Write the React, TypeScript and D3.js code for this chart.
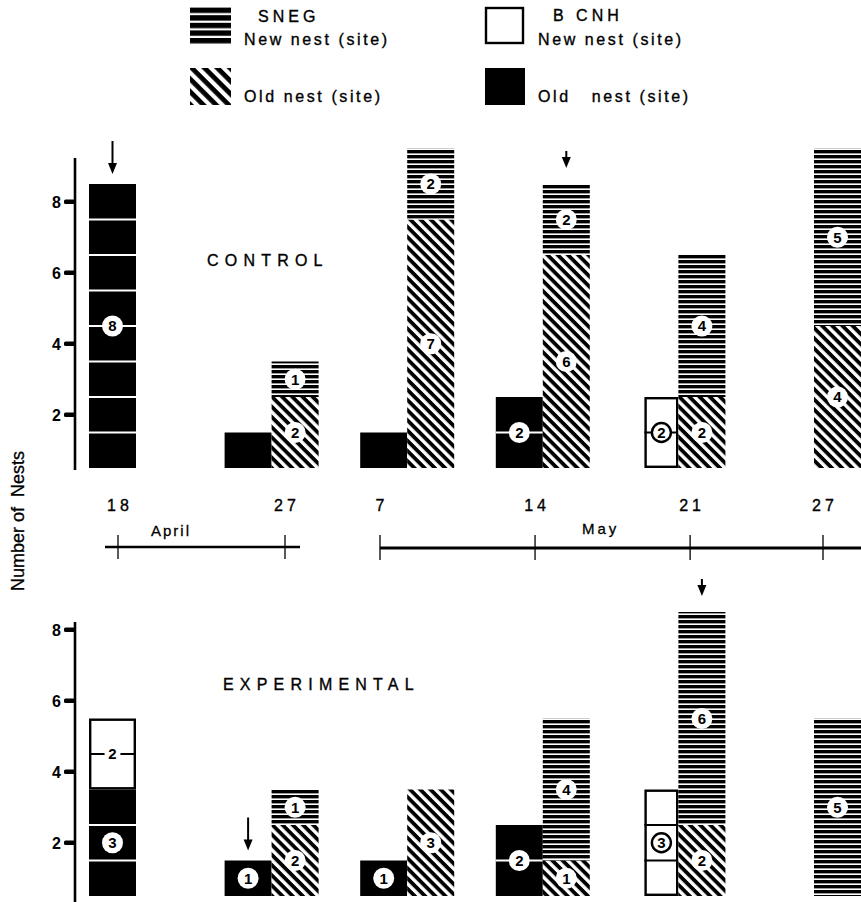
import React from "react";
import * as d3 from "d3";

const W = 861;
const H = 902;
const UNIT = 35.5;
const BAR_W = 47;
const NARROW_W = 34;
const FONT = "'Liberation Sans', Arial, Helvetica, sans-serif";

// census dates (bars) and the two halves of the broken time line
const dateKeys = ["Apr 18", "Apr 27", "May 7", "May 14", "May 21", "May 27"];
const aprilDays = [18, 27];
const mayDays = [7, 14, 21, 27];
const yTicks = [2, 4, 6, 8];

// CONTROL colony, nests per date
const controlBcnhOld = [8, 1, 1, 2, 0, 0];
const controlBcnhNew = [0, 0, 0, 0, 2, 0];
const controlSnegOld = [0, 2, 7, 6, 2, 4];
const controlSnegNew = [0, 1, 2, 2, 4, 5];

// EXPERIMENTAL colony, nests per date
const expBcnhOld = [3, 1, 1, 2, 0, 0];
const expBcnhNew = [2, 0, 0, 0, 3, 0];
const expSnegOld = [0, 2, 3, 1, 2, 0];
const expSnegNew = [0, 1, 0, 4, 6, 5];

// counts that carry no number in the figure, and the ones drawn as a ringed number
const hiddenLabels = ["control|bcnhOld|Apr 27", "control|bcnhOld|May 7"];
const ringedLabels = ["control|bcnhNew|May 21", "experimental|bcnhNew|May 21"];
const plainLabels = ["experimental|bcnhNew|Apr 18"];

// arrows over a column
const arrows = [
  { panel: "control", date: "Apr 18", column: "bcnh", long: true },
  { panel: "control", date: "May 14", column: "sneg", long: false },
  { panel: "experimental", date: "Apr 27", column: "bcnh", long: true },
  { panel: "experimental", date: "May 21", column: "sneg", long: false },
];

const panels = [
  {
    key: "control", title: "CONTROL", baseY: 468, axisTop: 158, axisBottom: 470,
    titleX: 207, titleY: 266,
    bcnhOld: controlBcnhOld, bcnhNew: controlBcnhNew, snegOld: controlSnegOld, snegNew: controlSnegNew,
  },
  {
    key: "experimental", title: "EXPERIMENTAL", baseY: 896, axisTop: 622, axisBottom: 902,
    titleX: 223, titleY: 690,
    bcnhOld: expBcnhOld, bcnhNew: expBcnhNew, snegOld: expSnegOld, snegNew: expSnegNew,
  },
];

const fills = {
  bcnhOld: "#000",
  bcnhNew: "#fff",
  snegOld: "url(#hatch)",
  snegNew: "url(#horiz)",
};

// bars: the point is the boundary between the BCNH and SNEG columns
const xScale = d3.scalePoint().domain(dateKeys).range([136, 814]);
const aprilScale = d3.scaleLinear().domain([18, 27]).range([118, 285]);
const mayScale = d3.scaleLinear().domain([7, 27]).range([380, 823]);

function Panel({ p }) {
  const yScale = d3.scaleLinear().domain([0.5, 9.5]).range([p.baseY, p.baseY - 9 * UNIT]);
  const rows = dateKeys.map((d, i) => ({
    date: d, bcnhOld: p.bcnhOld[i], bcnhNew: p.bcnhNew[i], snegOld: p.snegOld[i], snegNew: p.snegNew[i],
  }));
  const columns = [
    { name: "bcnh", keys: ["bcnhOld", "bcnhNew"] },
    { name: "sneg", keys: ["snegOld", "snegNew"] },
  ];

  const segs = [];
  columns.forEach(col => {
    const series = d3.stack().keys(col.keys)(rows);
    series.forEach(s => {
      s.forEach(v => {
        const n = v[1] - v[0];
        if (n <= 0) return;
        // a column of new BCNH nests only is drawn narrower
        const w = col.name === "bcnh" && v.data.bcnhOld === 0 ? NARROW_W : BAR_W;
        const x = col.name === "bcnh" ? xScale(v.data.date) - w : xScale(v.data.date);
        segs.push({ key: s.key, date: v.data.date, n, y0: 0.5 + v[0], y1: 0.5 + v[1], x, w });
      });
    });
  });

  const totals = {};
  rows.forEach(r => {
    totals[r.date] = { bcnh: r.bcnhOld + r.bcnhNew, sneg: r.snegOld + r.snegNew };
  });

  return (
    <g>
      {/* y axis */}
      <line x1={75} x2={75} y1={p.axisTop} y2={p.axisBottom} stroke="#000" strokeWidth={2.6} />
      {yTicks.map(t => (
        <g key={t} transform={`translate(0,${yScale(t)})`}>
          <rect x={64} y={-2.3} width={11} height={4.6} rx={1.5} fill="#000" />
          <text x={61} dy="0.36em" textAnchor="end" fontSize={16} fontWeight="bold" fontFamily={FONT}>{t}</text>
        </g>
      ))}
      <text x={p.titleX} y={p.titleY} fontSize={16} letterSpacing={6.2} fontFamily={FONT}
        stroke="#000" strokeWidth={0.35}>{p.title}</text>

      {segs.map((s, i) => {
        const top = yScale(s.y1);
        const bot = yScale(s.y0);
        const isWhite = s.key === "bcnhNew";
        const unitSep = s.key === "bcnhOld" || s.key === "bcnhNew";
        const inset = isWhite ? 1.2 : 0;
        return (
          <g key={i}>
            <rect
              x={s.x + inset}
              y={top + inset}
              width={s.w - 2 * inset}
              height={bot - top - 2 * inset}
              fill={fills[s.key]}
              stroke={isWhite ? "#000" : "none"}
              strokeWidth={2.4}
            />
            {unitSep && d3.range(1, s.n).map(k => (
              <line key={k} x1={s.x} x2={s.x + s.w} y1={yScale(s.y0 + k)} y2={yScale(s.y0 + k)}
                stroke={isWhite ? "#000" : "#fff"} strokeWidth={2} />
            ))}
          </g>
        );
      })}

      {segs.filter(s => !hiddenLabels.includes(`${p.key}|${s.key}|${s.date}`)).map((s, i) => {
        const id = `${p.key}|${s.key}|${s.date}`;
        const cy = yScale((s.y0 + s.y1) / 2);
        const cx = s.x + s.w / 2;
        const ringed = ringedLabels.includes(id);
        const plain = plainLabels.includes(id);
        return (
          <g key={i} transform={`translate(${cx},${cy})`}>
            <circle r={ringed ? 9.5 : plain ? 8 : 10.5} fill="#fff" stroke={ringed ? "#000" : "none"} strokeWidth={2.4} />
            <text dy="0.36em" textAnchor="middle" fontSize={15} fontWeight="bold" fontFamily={FONT}>{s.n}</text>
          </g>
        );
      })}

      {arrows.filter(a => a.panel === p.key).map((a, i) => {
        const cx = xScale(a.date) + (a.column === "bcnh" ? -BAR_W / 2 : BAR_W / 2);
        const tip = yScale(0.5 + totals[a.date][a.column]) - (a.long ? 10 : 16);
        const len = a.long ? 33 : 17;
        return (
          <g key={i}>
            <line x1={cx} x2={cx} y1={tip - len} y2={tip - 8} stroke="#000" strokeWidth={2} />
            <path d={`M${cx - 4.5},${tip - 11}L${cx + 4.5},${tip - 11}L${cx},${tip}Z`} fill="#000" />
          </g>
        );
      })}
    </g>
  );
}

function Legend() {
  const txt = { fontSize: 16, fontFamily: FONT, letterSpacing: 2.6, stroke: "#000", strokeWidth: 0.35 };
  return (
    <g>
      <rect x={190} y={7} width={41} height={37} fill="url(#horizBig)" />
      <text x={258} y={22} {...txt} letterSpacing={4}>SNEG</text>
      <text x={244} y={45} {...txt}>New nest (site)</text>
      <rect x={190} y={68} width={41} height={37} fill="url(#hatchBig)" />
      <text x={244} y={102} {...txt}>Old nest (site)</text>

      <rect x={486} y={8} width={37} height={35} fill="#fff" stroke="#000" strokeWidth={2.4} />
      <text x={553} y={21} {...txt} letterSpacing={4}>B CNH</text>
      <text x={538} y={45} {...txt}>New nest (site)</text>
      <rect x={485} y={68} width={40} height={37} fill="#000" />
      <text x={538} y={102} {...txt} xmlSpace="preserve">Old   nest (site)</text>
    </g>
  );
}

function TimeLine() {
  const labelY = 511;
  const lineY = 547;
  const dateText = {
    fontSize: 16, fontFamily: FONT, letterSpacing: 4, textAnchor: "middle", stroke: "#000", strokeWidth: 0.35,
  };
  return (
    <g>
      {aprilDays.map(d => (
        <text key={`a${d}`} x={aprilScale(d) + 2} y={labelY} {...dateText}>{d}</text>
      ))}
      {mayDays.map(d => (
        <text key={`m${d}`} x={mayScale(d) + 2} y={labelY} {...dateText}>{d}</text>
      ))}
      <line x1={aprilScale(18) - 13} x2={aprilScale(27) + 15} y1={lineY} y2={lineY} stroke="#000" strokeWidth={2.6} />
      {aprilDays.map(d => (
        <line key={`at${d}`} x1={aprilScale(d)} x2={aprilScale(d)} y1={lineY - 12} y2={lineY + 12} stroke="#000" strokeWidth={1.3} />
      ))}
      <line x1={mayScale(7)} x2={W} y1={lineY + 1} y2={lineY + 1} stroke="#000" strokeWidth={2.8} />
      {mayDays.map(d => (
        <line key={`mt${d}`} x1={mayScale(d)} x2={mayScale(d)} y1={lineY - 12} y2={lineY + 13} stroke="#000" strokeWidth={1.3} />
      ))}
      <text x={151} y={536} fontSize={15} fontFamily={FONT} letterSpacing={2} stroke="#000" strokeWidth={0.3}>April</text>
      <text x={582} y={534} fontSize={15} fontFamily={FONT} letterSpacing={3} stroke="#000" strokeWidth={0.3}>May</text>
    </g>
  );
}

export default function App() {
  return (
    <svg width={W} height={H} style={{ position: "absolute", left: 0, top: 0, background: "#fff" }}>
      <defs>
        <pattern id="horiz" patternUnits="userSpaceOnUse" width={8} height={5}>
          <rect width={8} height={5} fill="#fff" />
          <rect width={8} height={3.4} fill="#000" />
        </pattern>
        <pattern id="hatch" patternUnits="userSpaceOnUse" width={7.2} height={7.2} patternTransform="rotate(45)">
          <rect width={7.2} height={7.2} fill="#fff" />
          <rect width={7.2} height={3.8} fill="#000" />
        </pattern>
        <pattern id="horizBig" patternUnits="userSpaceOnUse" width={8} height={7.6}>
          <rect width={8} height={7.6} fill="#fff" />
          <rect width={8} height={5.4} fill="#000" />
        </pattern>
        <pattern id="hatchBig" patternUnits="userSpaceOnUse" width={9} height={9} patternTransform="rotate(45)">
          <rect width={9} height={9} fill="#fff" />
          <rect width={9} height={4.8} fill="#000" />
        </pattern>
      </defs>
      <rect width={W} height={H} fill="#fff" />
      <Legend />
      {panels.map(p => <Panel key={p.key} p={p} />)}
      <TimeLine />
      <text transform="translate(24,521) rotate(-90)" textAnchor="middle" fontSize={18} fontFamily={FONT}
        xmlSpace="preserve" stroke="#000" strokeWidth={0.3}>Number of  Nests</text>
    </svg>
  );
}
